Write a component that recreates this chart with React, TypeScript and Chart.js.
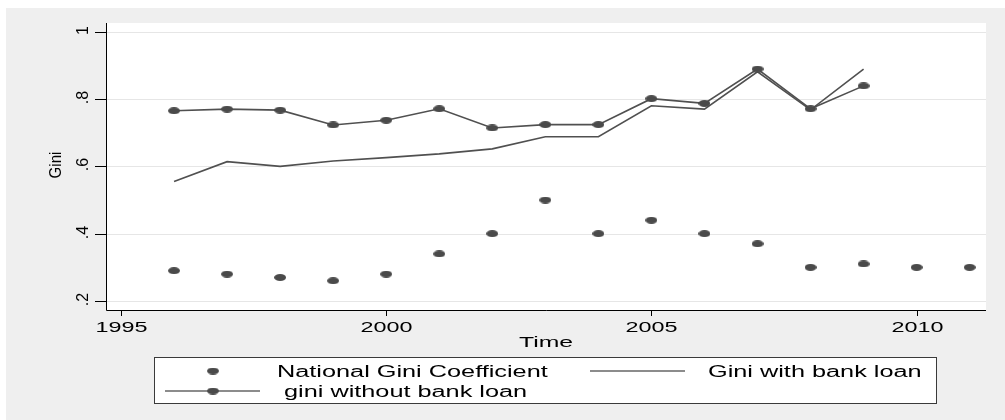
import React, { useEffect, useRef } from "react";
import { Chart, registerables } from "chart.js";

Chart.register(...registerables);

// ---------- data ----------
const nationalYears = [1996, 1997, 1998, 1999, 2000, 2001, 2002, 2003, 2004, 2005, 2006, 2007, 2008, 2009, 2010, 2011];
const nationalGini = [0.29, 0.28, 0.27, 0.26, 0.28, 0.34, 0.40, 0.50, 0.40, 0.44, 0.40, 0.37, 0.30, 0.31, 0.30, 0.30];

const provinceYears = [1996, 1997, 1998, 1999, 2000, 2001, 2002, 2003, 2004, 2005, 2006, 2007, 2008, 2009];
const giniWithBankLoan = [0.555, 0.614, 0.600, 0.616, 0.626, 0.637, 0.652, 0.688, 0.688, 0.780, 0.770, 0.881, 0.768, 0.889];
const giniWithoutBankLoan = [0.765, 0.770, 0.767, 0.723, 0.737, 0.771, 0.714, 0.724, 0.724, 0.801, 0.787, 0.889, 0.771, 0.839];

const xTicks = [1995, 2000, 2005, 2010];
const yTicks = [0.2, 0.4, 0.6, 0.8, 1];
const yTickLabels = [".2", ".4", ".6", ".8", "1"];

const legendLabels = ["National Gini Coefficient", "Gini with bank loan", "gini without bank loan"];
const xTitle = "Time";
const yTitle = "Gini";

// ---------- styles ----------
const MARK = "#4a4a4a";
const LINE = "#505050";
const BG = "#efefef";
const FONT = '"Liberation Sans", Arial, sans-serif';

function makeDot(w: number, h: number, color: string) {
  const c = document.createElement("canvas");
  c.width = w;
  c.height = h;
  const g = c.getContext("2d")!;
  g.fillStyle = color;
  g.beginPath();
  g.ellipse(w / 2, h / 2, w / 2, h / 2, 0, 0, Math.PI * 2);
  g.fill();
  return c;
}

function txt(
  ctx: CanvasRenderingContext2D,
  s: string,
  x: number,
  y: number,
  size: number,
  sx: number,
  align: CanvasTextAlign,
  rot = false,
  sy = 1
) {
  ctx.save();
  ctx.translate(x, y);
  ctx.scale(sx, sy);
  if (rot) ctx.rotate(-Math.PI / 2);
  ctx.font = `${size}px ${FONT}`;
  ctx.fillStyle = "#000";
  ctx.textAlign = align;
  ctx.textBaseline = "alphabetic";
  ctx.fillText(s, 0, 0);
  ctx.restore();
}

export default function App() {
  const ref = useRef<HTMLCanvasElement | null>(null);

  useEffect(() => {
    const canvas = ref.current;
    if (!canvas) return;
    const dot = makeDot(12, 7, MARK);
    const legendDot = makeDot(12, 7, MARK);

    const decor = {
      id: "stataDecor",
      beforeDraw(chart: any) {
        const ctx: CanvasRenderingContext2D = chart.ctx;
        const a = chart.chartArea;
        const ys = chart.scales.y;
        ctx.save();
        ctx.fillStyle = "#fff";
        ctx.fillRect(0, 0, chart.width, chart.height);
        ctx.fillStyle = BG;
        ctx.fillRect(6, 8, chart.width - 6, chart.height - 8);
        ctx.fillStyle = "#fff";
        ctx.fillRect(a.left, a.top, a.right - a.left, a.bottom - a.top);
        // grid
        ctx.strokeStyle = "#e6e6e6";
        ctx.lineWidth = 1;
        yTicks.forEach((v) => {
          const py = Math.round(ys.getPixelForValue(v)) + 0.5;
          ctx.beginPath();
          ctx.moveTo(a.left, py);
          ctx.lineTo(a.right, py);
          ctx.stroke();
        });
        ctx.restore();
      },
      afterDraw(chart: any) {
        const ctx: CanvasRenderingContext2D = chart.ctx;
        const a = chart.chartArea;
        const xs = chart.scales.x;
        const ys = chart.scales.y;
        ctx.save();
        ctx.strokeStyle = "#000";
        ctx.lineWidth = 1;
        // axes
        ctx.beginPath();
        ctx.moveTo(a.left + 0.5, a.top);
        ctx.lineTo(a.left + 0.5, a.bottom + 0.5);
        ctx.lineTo(a.right, a.bottom + 0.5);
        ctx.stroke();
        // y ticks
        yTicks.forEach((v, i) => {
          const py = Math.round(ys.getPixelForValue(v)) + 0.5;
          ctx.beginPath();
          ctx.moveTo(a.left - 11, py);
          ctx.lineTo(a.left, py);
          ctx.stroke();
          txt(ctx, yTickLabels[i], a.left - 18, py - 2, 16, 1.0, "center", true);
        });
        // x ticks
        xTicks.forEach((v) => {
          const px = Math.round(xs.getPixelForValue(v)) + 0.5;
          ctx.beginPath();
          ctx.moveTo(px, a.bottom);
          ctx.lineTo(px, a.bottom + 6);
          ctx.stroke();
          txt(ctx, String(v), px, 332, 15, 1.56, "center");
        });
        // titles
        txt(ctx, xTitle, (a.left + a.right) / 2, 347, 15, 1.65, "center");
        txt(ctx, yTitle, 61, 165, 18, 0.95, "center", true, 0.84);

        // legend
        ctx.fillStyle = "#fff";
        ctx.fillRect(154.5, 357.5, 782, 46);
        ctx.strokeStyle = "#3a3a3a";
        ctx.strokeRect(154.5, 357.5, 782, 46);
        const r1 = 371;
        const r2 = 391;
        // item 1: marker only
        ctx.drawImage(legendDot, 213 - 6, r1 - 3.5);
        txt(ctx, legendLabels[0], 277, r1 + 6, 16, 1.58, "left");
        // item 2: line only
        ctx.strokeStyle = "#666";
        ctx.lineWidth = 1.5;
        ctx.beginPath();
        ctx.moveTo(590, r1);
        ctx.lineTo(685, r1);
        ctx.stroke();
        txt(ctx, legendLabels[1], 708, r1 + 6, 16, 1.58, "left");
        // item 3: line + marker
        ctx.beginPath();
        ctx.moveTo(165, r2);
        ctx.lineTo(260, r2);
        ctx.stroke();
        ctx.drawImage(legendDot, 213 - 6, r2 - 3.5);
        txt(ctx, legendLabels[2], 284, r2 + 6, 16, 1.58, "left");
        ctx.restore();
      },
    };

    const chart = new Chart(canvas, {
      type: "line",
      data: {
        datasets: [
          {
            label: legendLabels[2],
            data: provinceYears.map((x, i) => ({ x, y: giniWithoutBankLoan[i] })),
            borderColor: LINE,
            borderWidth: 1.6,
            pointStyle: dot as any,
            pointRadius: 4,
            tension: 0,
            fill: false,
          },
          {
            label: legendLabels[1],
            data: provinceYears.map((x, i) => ({ x, y: giniWithBankLoan[i] })),
            borderColor: LINE,
            borderWidth: 1.6,
            pointRadius: 0,
            tension: 0,
            fill: false,
          },
          {
            label: legendLabels[0],
            data: nationalYears.map((x, i) => ({ x, y: nationalGini[i] })),
            showLine: false,
            pointStyle: dot as any,
            pointRadius: 4,
          },
        ],
      },
      options: {
        responsive: false,
        devicePixelRatio: 1,
        animation: false,
        events: [],
        layout: { padding: { left: 106, top: 23, right: 19, bottom: 110 } },
        plugins: {
          legend: { display: false },
          title: { display: false },
          tooltip: { enabled: false },
        },
        scales: {
          x: { type: "linear", min: 1994.717, max: 2011.308, display: false },
          y: { type: "linear", min: 0.1733, max: 1.0258, display: false },
        },
      },
      plugins: [decor],
    });
    return () => chart.destroy();
  }, []);

  return (
    <div style={{ position: "fixed", left: 0, top: 0, width: 1005, height: 420 }}>
      <canvas ref={ref} width={1005} height={420} style={{ display: "block" }} />
    </div>
  );
}
